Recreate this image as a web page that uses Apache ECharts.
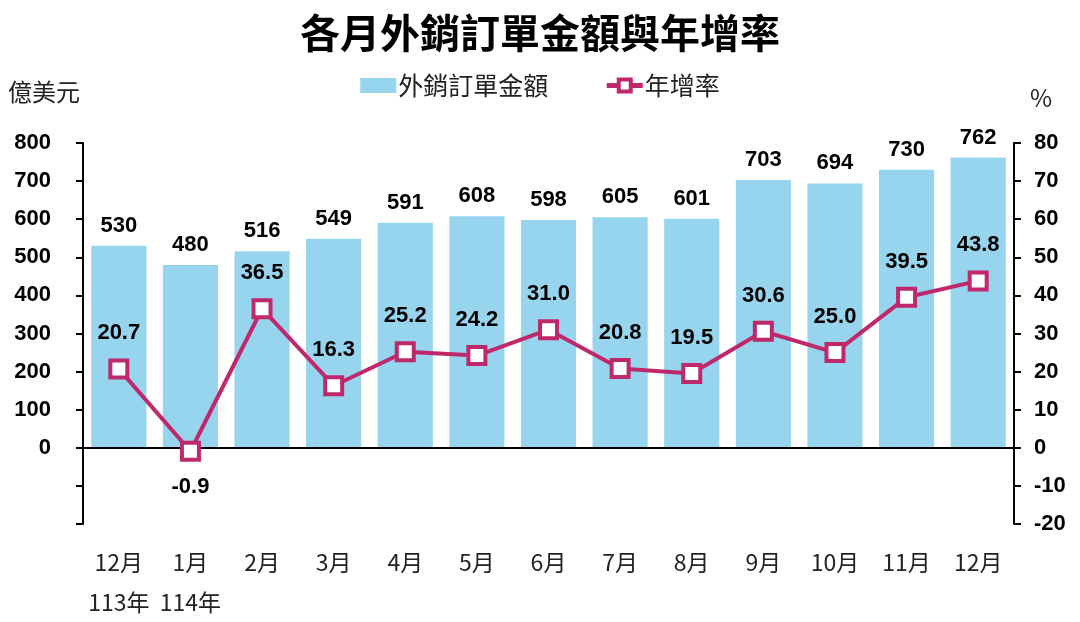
<!DOCTYPE html>
<html>
<head>
<meta charset="utf-8">
<script src="https://cdn.jsdelivr.net/npm/echarts@6/dist/echarts.min.js"></script>
<style>
  html, body { margin: 0; padding: 0; background: #fff; }
  #chart { width: 1080px; height: 622px; }
</style>
</head>
<body>
<div id="chart"></div>
<script>
// 各月外銷訂單金額(億美元)與年增率(%)
var months = ['12月\n113年', '1月\n114年', '2月', '3月', '4月', '5月', '6月', '7月', '8月', '9月', '10月', '11月', '12月'];
var orderValues = [530, 480, 516, 549, 591, 608, 598, 605, 601, 703, 694, 730, 762];
var growthRates = [20.7, -0.9, 36.5, 16.3, 25.2, 24.2, 31.0, 20.8, 19.5, 30.6, 25.0, 39.5, 43.8];

var numFont = '"Liberation Sans Narrow", "Liberation Sans", Arial, sans-serif';
var cjkFont = '"Noto Sans CJK TC", "Noto Sans", sans-serif';
var barColor = '#97D5EF',
  lineColor = '#C0286C';

var chart = echarts.init(document.getElementById('chart'));
chart.setOption({
  animation : false,
  backgroundColor : '#fff',
  title : {
    text : '各月外銷訂單金額與年增率',
    left : 'center',
    top : 8,
    textStyle : { fontFamily : cjkFont, fontSize : 40, fontWeight : 'bold', color : '#000' }
  },
  legend : {
    top : 68,
    left : 'center',
    itemGap : 56,
    itemWidth : 36,
    itemHeight : 15,
    textStyle : { fontFamily : cjkFont, fontSize : 25, color : '#222', padding : [0, 0, 0, -3] },
    data : [
      { name : '外銷訂單金額', icon : 'rect' },
      { name : '年增率', itemStyle : { borderWidth : 4 }, lineStyle : { width : 5 } }
    ]
  },
  graphic : [
    { type : 'text', left : 8, top : 80, style : { text : '億美元', font : '24px ' + cjkFont, fill : '#222' } },
    { type : 'text', left : 1030, top : 86, style : { text : '%', font : '24px ' + cjkFont, fill : '#222' } }
  ],
  grid : { left : 83, right : 66, top : 143, bottom : 95 },
  xAxis : {
    type : 'category',
    data : months,
    axisLine : { show : false },
    axisTick : { show : false },
    axisLabel : {
      interval : 0,
      margin : 18,
      fontFamily : cjkFont,
      fontSize : 23,
      color : '#222',
      lineHeight : 40
    }
  },
  yAxis : [
    {
      type : 'value',
      min : -200,
      max : 800,
      interval : 100,
      splitLine : { show : false },
      axisLine : { show : true, lineStyle : { color : '#000', width : 2 } },
      axisTick : { show : true, length : 7, lineStyle : { color : '#000', width : 2 } },
      axisLabel : {
        margin : 32,
        fontFamily : numFont,
        fontWeight : 'bold',
        fontSize : 22,
        color : '#000',
        formatter : function(v) { return v < 0 ? '' : v; }
      }
    },
    {
      type : 'value',
      min : -20,
      max : 80,
      interval : 10,
      splitLine : { show : false },
      axisLine : { show : true, lineStyle : { color : '#000', width : 2 } },
      axisTick : { show : true, length : 7, lineStyle : { color : '#000', width : 2 } },
      axisLabel : {
        margin : 20,
        fontFamily : numFont,
        fontWeight : 'bold',
        fontSize : 22,
        color : '#000'
      }
    }
  ],
  series : [
    {
      name : '外銷訂單金額',
      type : 'bar',
      data : orderValues,
      barWidth : '77%',
      itemStyle : { color : barColor },
      label : {
        show : true,
        position : 'top',
        distance : 9,
        fontFamily : numFont,
        fontWeight : 'bold',
        fontSize : 22,
        color : '#000'
      },
      markLine : {
        silent : true,
        symbol : 'none',
        label : { show : false },
        lineStyle : { color : '#000', width : 2, type : 'solid' },
        data : [{ yAxis : 0 }],
        z : 5
      }
    },
    {
      name : '年增率',
      type : 'line',
      yAxisIndex : 1,
      data : growthRates.map(function(v) {
        return v < 0 ? { value : v, label : { position : 'bottom' } } : v;
      }),
      symbol : 'rect',
      symbolSize : 17,
      itemStyle : { color : '#fff', borderColor : lineColor, borderWidth : 4 },
      lineStyle : { color : lineColor, width : 4 },
      z : 10,
      label : {
        show : true,
        position : 'top',
        distance : 14,
        fontFamily : numFont,
        fontWeight : 'bold',
        fontSize : 22,
        color : '#000',
        formatter : function(p) { return p.value.toFixed(1); }
      }
    }
  ]
});
</script>
</body>
</html>
